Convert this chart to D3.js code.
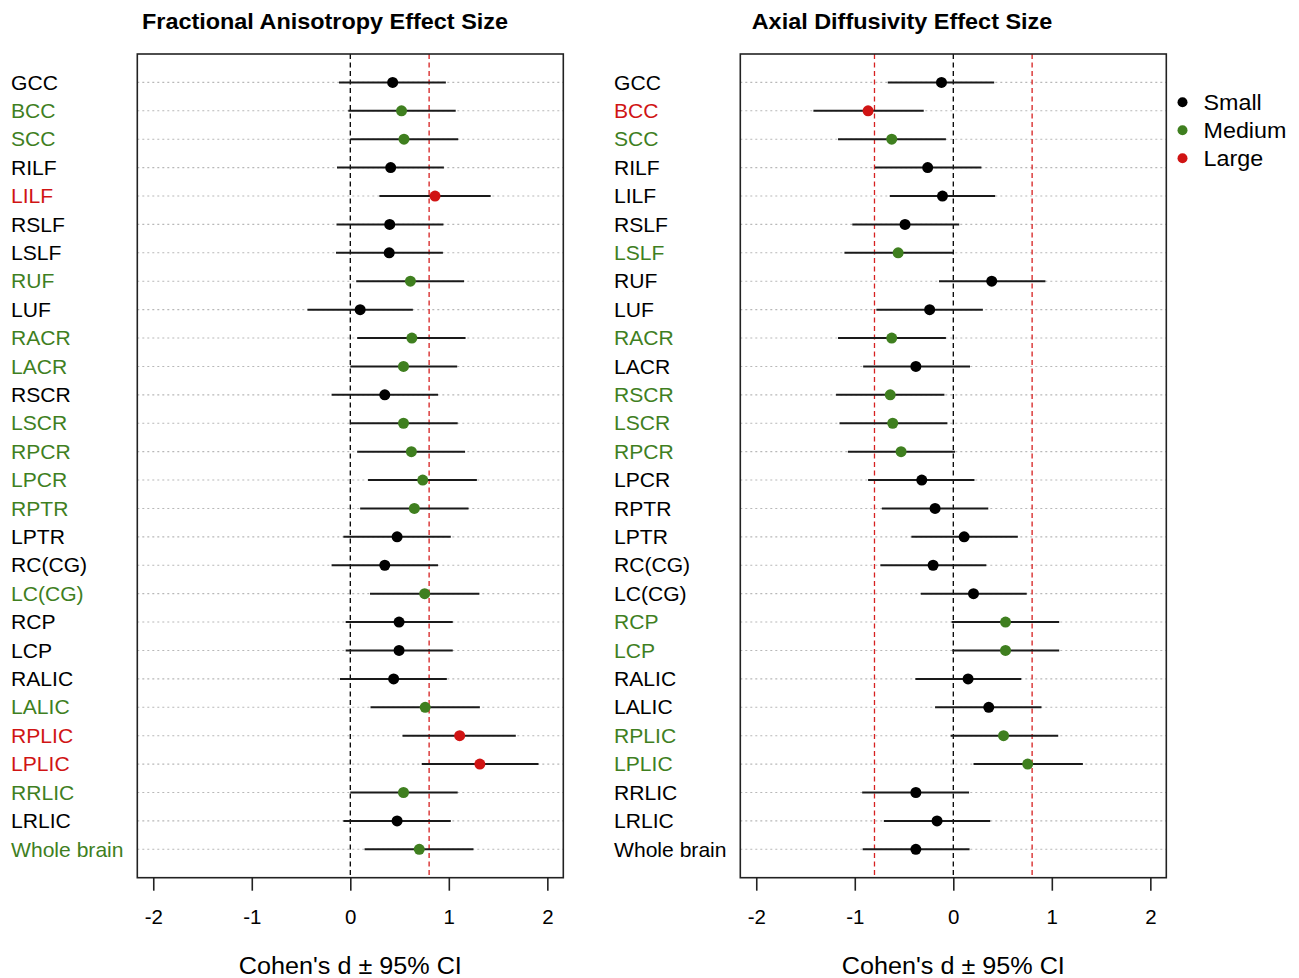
<!DOCTYPE html>
<html><head><meta charset="utf-8">
<script src="https://cdn.jsdelivr.net/npm/d3@7"></script>
<style>body{margin:0;background:#fff;} svg{display:block;font-family:"Liberation Sans",Arial,Helvetica,sans-serif;}</style>
</head><body><svg id="c" width="1299" height="978"></svg>
<script>
const regions = ["GCC","BCC","SCC","RILF","LILF","RSLF","LSLF","RUF","LUF","RACR","LACR","RSCR","LSCR","RPCR","LPCR","RPTR","LPTR","RC(CG)","LC(CG)","RCP","LCP","RALIC","LALIC","RPLIC","LPLIC","RRLIC","LRLIC","Whole brain"];

const faD  = [0.43,0.52,0.545,0.41,0.86,0.40,0.395,0.61,0.10,0.625,0.54,0.35,0.54,0.62,0.735,0.65,0.475,0.35,0.755,0.495,0.495,0.44,0.76,1.11,1.315,0.54,0.475,0.70];
const faLo = [-0.115,-0.02,0.0,-0.135,0.295,-0.14,-0.145,0.06,-0.435,0.07,0.0,-0.19,0.0,0.07,0.18,0.10,-0.07,-0.19,0.20,-0.047,-0.047,-0.105,0.205,0.53,0.725,0.0,-0.07,0.145];
const faHi = [0.97,1.07,1.095,0.95,1.425,0.945,0.94,1.155,0.635,1.17,1.085,0.89,1.09,1.165,1.285,1.20,1.02,0.89,1.31,1.04,1.04,0.98,1.315,1.68,1.91,1.09,1.02,1.25];
const faSize = ["S","M","M","S","L","S","S","M","S","M","M","S","M","M","M","M","S","S","M","S","S","S","M","L","L","M","S","M"];

const adD  = [-0.12,-0.865,-0.625,-0.26,-0.11,-0.49,-0.56,0.39,-0.24,-0.625,-0.38,-0.64,-0.615,-0.53,-0.32,-0.185,0.11,-0.205,0.205,0.53,0.53,0.15,0.36,0.51,0.755,-0.38,-0.165,-0.38];
const adLo = [-0.665,-1.42,-1.17,-0.795,-0.645,-1.025,-1.105,-0.145,-0.78,-1.17,-0.915,-1.19,-1.155,-1.07,-0.865,-0.725,-0.425,-0.74,-0.33,-0.017,-0.01,-0.385,-0.185,-0.027,0.205,-0.925,-0.705,-0.92];
const adHi = [0.415,-0.30,-0.075,0.285,0.425,0.06,0.0,0.935,0.30,-0.075,0.17,-0.09,-0.06,0.017,0.215,0.355,0.655,0.335,0.745,1.075,1.075,0.69,0.895,1.065,1.315,0.16,0.375,0.165];
const adSize = ["S","L","M","S","S","S","M","S","S","M","S","M","M","M","S","S","S","S","S","M","M","S","S","M","M","S","S","S"];

const xTicks = [-2,-1,0,1,2];
const sizeNames = {S:"Small", M:"Medium", L:"Large"};
const sizeColors = {S:"#000000", M:"#3f7f1f", L:"#d01414"};
const legendKeys = ["S","M","L"];

const svg = d3.select("#c");
const plotTop = 54, plotBottom = 877.7;
const y = d3.scaleLinear().domain([0, regions.length + 1]).range([plotTop, plotBottom]);

function stretchedText(sel, x, yy, sx){
  // places text at (x,yy) with horizontal stretch sx
  return sel.attr("transform", (dd,i)=>`translate(${typeof x==="function"?x(dd,i):x},${typeof yy==="function"?yy(dd,i):yy}) scale(${sx},1)`);
}

function panel(opts){
  const {x0, x1, labelX, title, titleX, d, lo, hi, sz, refLines} = opts;
  const x = d3.scaleLinear().domain([-2.162, 2.162]).range([x0, x1]);
  const g = svg.append("g");
  g.selectAll("line.grid").data(regions).join("line")
    .attr("x1", x0).attr("x2", x1)
    .attr("y1", (r,i)=>y(i+1)).attr("y2", (r,i)=>y(i+1))
    .attr("stroke", "#b8b8b8").attr("stroke-width", 1.1).attr("stroke-dasharray", "2,3");
  g.append("line").attr("x1", x(0)).attr("x2", x(0)).attr("y1", plotTop).attr("y2", plotBottom)
    .attr("stroke", "#000").attr("stroke-width", 1.3).attr("stroke-dasharray", "5,3.5");
  refLines.forEach(v=>{
    g.append("line").attr("x1", x(v)).attr("x2", x(v)).attr("y1", plotTop).attr("y2", plotBottom)
      .attr("stroke", "#d62020").attr("stroke-width", 1.3).attr("stroke-dasharray", "5,3.5");
  });
  g.selectAll("line.ci").data(regions).join("line")
    .attr("x1", (r,i)=>x(lo[i])).attr("x2", (r,i)=>x(hi[i]))
    .attr("y1", (r,i)=>y(i+1)).attr("y2", (r,i)=>y(i+1))
    .attr("stroke", "#1a1a1a").attr("stroke-width", 2);
  g.selectAll("circle.pt").data(regions).join("circle")
    .attr("cx", (r,i)=>x(d[i])).attr("cy", (r,i)=>y(i+1)).attr("r", 5.5)
    .attr("fill", (r,i)=>sizeColors[sz[i]]);
  g.append("rect").attr("x", x0).attr("y", plotTop).attr("width", x1-x0).attr("height", plotBottom-plotTop)
    .attr("fill", "none").attr("stroke", "#222").attr("stroke-width", 1.6);
  const ax = g.append("g").attr("transform", `translate(0,${plotBottom})`)
    .call(d3.axisBottom(x).tickValues(xTicks).tickFormat(d3.format("d")).tickSize(13).tickPadding(19));
  ax.select(".domain").remove();
  ax.selectAll(".tick line").attr("stroke", "#222").attr("stroke-width", 1.6);
  ax.selectAll(".tick text").attr("font-size", 19.5).attr("fill", "#000")
    .attr("transform", "scale(1.05,1)")
    .text(v => (v < 0 ? "-" + Math.abs(v) : String(v)));
  stretchedText(g.append("text"), (x0+x1)/2, 974, 1.05).attr("text-anchor", "middle")
    .attr("font-size", 24).attr("fill", "#000").text("Cohen's d \u00b1 95% CI");
  stretchedText(g.append("text"), titleX, 29, 1.09).attr("text-anchor", "middle")
    .attr("font-size", 21.5).attr("font-weight", "bold").attr("fill", "#000").text(title);
  stretchedText(g.selectAll("text.lab").data(regions).join("text"), labelX, (r,i)=>y(i+1), 1.055)
    .attr("dy", "0.36em")
    .attr("font-size", 20).attr("fill", (r,i)=>sizeColors[sz[i]]).text(r=>r);
}

panel({x0:137.3, x1:563.3, labelX:11, title:"Fractional Anisotropy Effect Size", titleX:325,
  d:faD, lo:faLo, hi:faHi, sz:faSize, refLines:[0.8]});
panel({x0:740.3, x1:1166.3, labelX:614, title:"Axial Diffusivity Effect Size", titleX:902,
  d:adD, lo:adLo, hi:adHi, sz:adSize, refLines:[-0.8, 0.8]});

const lg = svg.append("g");
lg.selectAll("circle").data(legendKeys).join("circle")
  .attr("cx", 1182.5).attr("cy", (k,i)=>102.3 + i*28).attr("r", 5)
  .attr("fill", k=>sizeColors[k]);
stretchedText(lg.selectAll("text").data(legendKeys).join("text"), 1203.5, (k,i)=>102.3 + i*28, 1.06)
  .attr("dy", "0.36em")
  .attr("font-size", 22).attr("fill", "#000").text(k=>sizeNames[k]);
</script></body></html>
